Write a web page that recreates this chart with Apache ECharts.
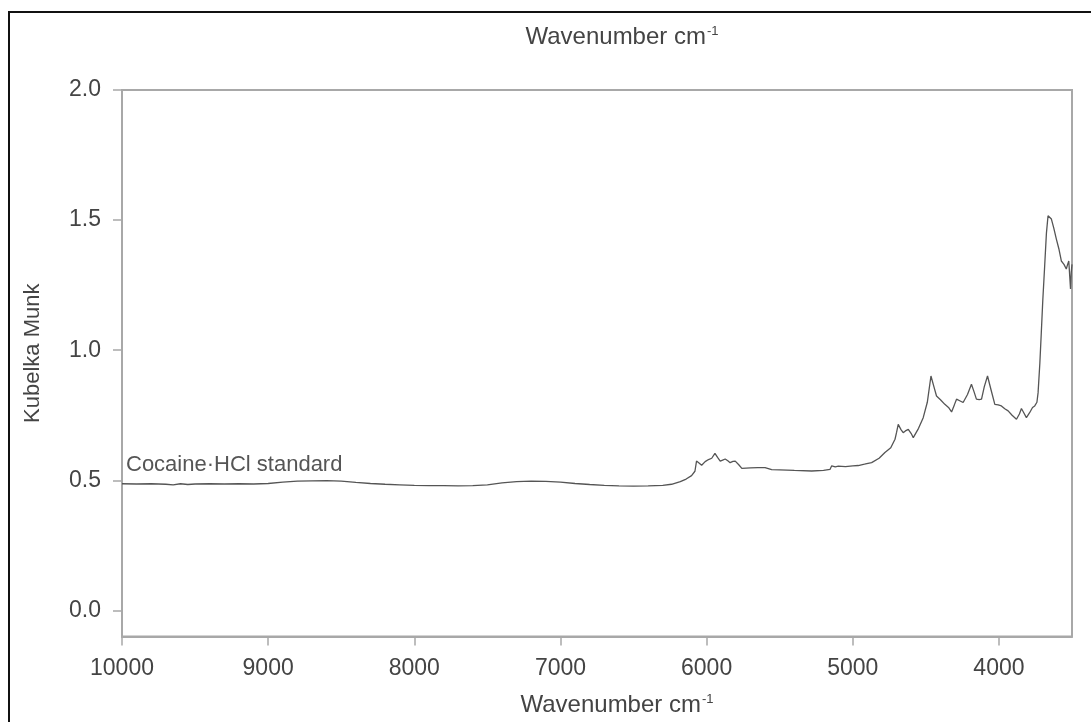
<!DOCTYPE html>
<html>
<head>
<meta charset="utf-8">
<title>Cocaine HCl NIR spectrum</title>
<script src="https://cdn.jsdelivr.net/npm/echarts@6/dist/echarts.min.js"></script>
<style>
  html, body { margin: 0; padding: 0; background: #fff; }
  #chart { width: 1091px; height: 722px; }
</style>
</head>
<body>
<div id="chart"></div>
<script>
// wavenumber (cm-1) and Kubelka Munk values
const wavenumbers = [
  10000, 9900, 9800, 9700, 9650, 9600, 9550, 9500, 9400, 9300, 9200, 9100, 9000,
  8900, 8800, 8700, 8600, 8500, 8400, 8300, 8200, 8100, 8000, 7900, 7800, 7700,
  7600, 7500, 7400, 7300, 7200, 7100, 7000, 6900, 6800, 6700, 6600, 6500, 6400,
  6300, 6240, 6180, 6140, 6103, 6080, 6069, 6050, 6034, 6010, 5987, 5965, 5943,
  5925, 5907, 5890, 5873, 5855, 5839, 5820, 5804, 5780, 5759, 5700, 5650, 5600,
  5555, 5500, 5400, 5281, 5200, 5156, 5144, 5120, 5099, 5050, 5000, 4962, 4920,
  4871, 4820, 4780, 4740, 4711, 4700, 4689, 4670, 4655, 4640, 4620, 4600, 4586,
  4550, 4518, 4490, 4465, 4445, 4427, 4400, 4370, 4345, 4324, 4305, 4290, 4265,
  4245, 4215, 4188, 4170, 4154, 4135, 4119, 4100, 4078, 4055, 4028, 4005, 3983,
  3960, 3937, 3910, 3880, 3860, 3846, 3830, 3812, 3790, 3770, 3755, 3740, 3732,
  3720, 3710, 3700, 3687, 3675, 3664, 3652, 3641, 3625, 3607, 3590, 3573, 3555,
  3539, 3530, 3522, 3515, 3510, 3505, 3500
]
const kmValues = [
  0.487, 0.486, 0.487, 0.485, 0.483, 0.487, 0.484, 0.486, 0.487, 0.486, 0.487, 0.486, 0.488,
  0.493, 0.497, 0.498, 0.499, 0.497, 0.492, 0.488, 0.485, 0.483, 0.481, 0.480, 0.480, 0.479,
  0.480, 0.483, 0.490, 0.495, 0.497, 0.496, 0.493, 0.488, 0.484, 0.481, 0.479, 0.478, 0.479,
  0.481, 0.485, 0.495, 0.505, 0.518, 0.535, 0.574, 0.566, 0.558, 0.572, 0.580, 0.585, 0.604,
  0.588, 0.574, 0.578, 0.582, 0.575, 0.568, 0.573, 0.574, 0.560, 0.546, 0.548, 0.549, 0.549,
  0.541, 0.540, 0.538, 0.536, 0.538, 0.542, 0.556, 0.552, 0.555, 0.553, 0.556, 0.557, 0.562,
  0.568, 0.585, 0.607, 0.625, 0.658, 0.685, 0.715, 0.695, 0.683, 0.690, 0.696, 0.680, 0.664,
  0.700, 0.741, 0.800, 0.901, 0.860, 0.824, 0.810, 0.792, 0.780, 0.763, 0.790, 0.812, 0.805,
  0.799, 0.830, 0.869, 0.840, 0.812, 0.810, 0.812, 0.860, 0.901, 0.850, 0.792, 0.790, 0.786,
  0.775, 0.767, 0.750, 0.735, 0.755, 0.776, 0.760, 0.741, 0.760, 0.780, 0.786, 0.800, 0.837,
  0.950, 1.068, 1.190, 1.324, 1.450, 1.517, 1.515, 1.504, 1.470, 1.427, 1.390, 1.343, 1.330,
  1.312, 1.330, 1.343, 1.280, 1.235, 1.300, 1.330
]
const xTicks = [10000, 9000, 8000, 7000, 6000, 5000, 4000]
const yTicks = [0, 0.5, 1, 1.5, 2]

const fontFamily = "'Liberation Sans', Arial, sans-serif"
const axisGray = '#a8a8a8'
const textGray = '#444'

// rich styles for "cm-1" with a raised -1
const unitRich = {
  a: { fontSize: 24, color: textGray, fontFamily: fontFamily, fontWeight: 'normal' },
  s: { fontSize: 13, color: textGray, fontFamily: fontFamily, fontWeight: 'normal', verticalAlign: 'bottom', padding: [0, 0, 12, 1] }
}

const chart = echarts.init(document.getElementById('chart'), null, { renderer: 'canvas' })

const option = {
  backgroundColor: '#fff',
  animation: false,
  textStyle: { fontFamily: fontFamily },
  title: {
    text: '{a|Wavenumber cm}{s|-1}',
    left: 617,
    top: 20,
    textAlign: 'center',
    textStyle: { fontWeight: 'normal', rich: unitRich }
  },
  grid: {
    left: 122,
    right: 19,
    top: 90,
    bottom: 85,
    show: true,
    borderColor: axisGray,
    borderWidth: 2,
    backgroundColor: 'transparent'
  },
  xAxis: {
    type: 'value',
    inverse: true,
    min: 3500,
    max: 10000,
    name: '{a|Wavenumber cm}{s|-1}',
    nameLocation: 'middle',
    nameGap: 56,
    nameTextStyle: { rich: unitRich, padding: [0, 0, 0, 40] },
    splitLine: { show: false },
    axisLine: { show: true, onZero: false, lineStyle: { color: axisGray, width: 2 } },
    axisTick: { show: true, customValues: xTicks, length: 9, lineStyle: { color: axisGray, width: 1.5 } },
    axisLabel: {
      customValues: xTicks,
      fontSize: 23,
      color: textGray,
      margin: 21,
      formatter: function (v) { return String(v) }
    }
  },
  yAxis: {
    type: 'value',
    min: -0.1,
    max: 2.0,
    name: 'Kubelka Munk',
    nameLocation: 'middle',
    nameGap: 78,
    nameTextStyle: { fontSize: 22, color: textGray, padding: [0, 0, 0, 20] },
    splitLine: { show: false },
    axisLine: { show: true, onZero: false, lineStyle: { color: axisGray, width: 2 } },
    axisTick: { show: true, customValues: yTicks, length: 9, lineStyle: { color: axisGray, width: 1.5 } },
    axisLabel: {
      customValues: yTicks,
      fontSize: 23,
      color: textGray,
      margin: 21,
      formatter: function (v) { return v.toFixed(1) }
    }
  },
  series: [{
    type: 'line',
    data: wavenumbers.map(function (w, i) { return [w, kmValues[i]] }),
    showSymbol: false,
    smooth: false,
    lineStyle: { color: '#555', width: 1.3 }
  }],
  graphic: [
    // outer frame, only top and left edges fall inside the picture
    {
      type: 'rect',
      shape: { x: 9, y: 12, width: 1100, height: 730 },
      style: { fill: 'none', stroke: '#111', lineWidth: 2 },
      silent: true
    },
    {
      type: 'text',
      left: 126,
      top: 454,
      style: { text: 'Cocaine\u00b7HCl standard', fontSize: 22, fill: '#555', fontFamily: fontFamily }
    }
  ]
}

chart.setOption(option)
window.addEventListener('resize', function () { chart.resize() })
</script>
</body>
</html>
